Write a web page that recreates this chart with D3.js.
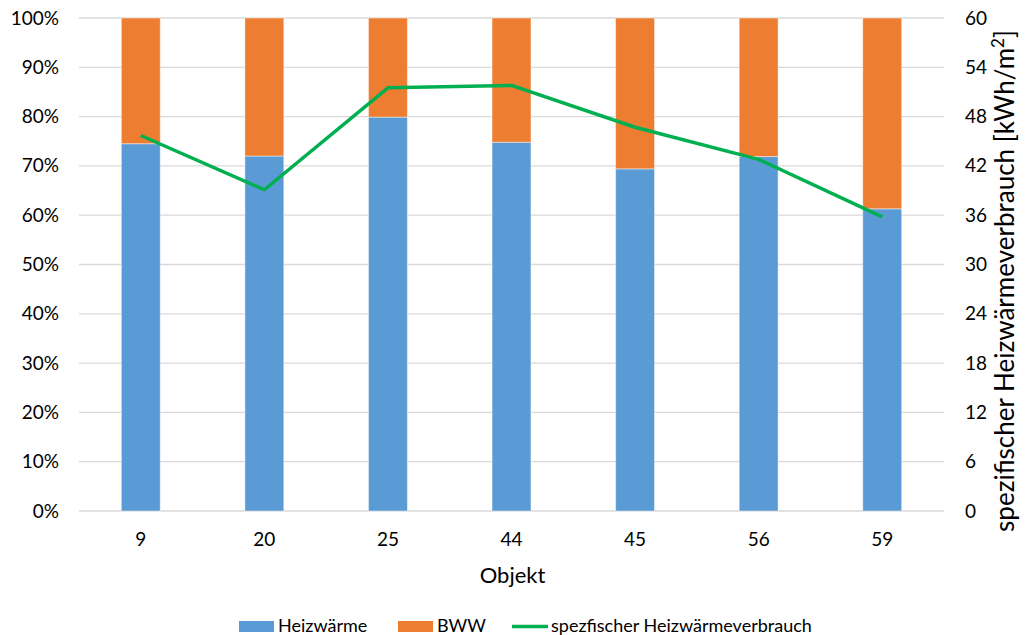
<!DOCTYPE html>
<html>
<head>
<meta charset="utf-8">
<script src="https://cdn.jsdelivr.net/npm/d3@7"></script>
<style>
html,body{margin:0;padding:0;background:#fff;}
svg{display:block;font-family:Lato,"Open Sans",sans-serif;}
</style>
</head>
<body>
<svg id="chart" width="1026" height="635"></svg>
<script>
const categories = ["9","20","25","44","45","56","59"];
const heizwaerme = [74.5, 72.0, 79.9, 74.8, 69.4, 71.9, 61.3];
const bww = heizwaerme.map(v => 100 - v);
const spezVerbrauch = [45.7, 39.1, 51.5, 51.8, 46.7, 42.8, 35.8];
const leftTicks = [0,10,20,30,40,50,60,70,80,90,100];
const rightTicks = [0,6,12,18,24,30,36,42,48,54,60];
const seriesNames = ["Heizwärme","BWW","spezfischer Heizwärmeverbrauch"];
const colors = {heiz:"#5B9BD5", bww:"#ED7D31", line:"#00B050", grid:"#D9D9D9", text:"#000"};

const svg = d3.select("#chart");
const m = {left:79, right:944, top:18, bottom:511};
const FONT = "Lato,'Open Sans',sans-serif";

const x = d3.scaleBand().domain(categories).range([m.left, m.right]).paddingInner(0.685).paddingOuter(0.3425);
const yL = d3.scaleLinear().domain([0,100]).range([m.bottom, m.top]);
const yR = d3.scaleLinear().domain([0,60]).range([m.bottom, m.top]);

// gridlines
svg.append("g").selectAll("line").data(leftTicks).join("line")
  .attr("x1", m.left).attr("x2", m.right)
  .attr("y1", d => yL(d)).attr("y2", d => yL(d))
  .attr("stroke", colors.grid).attr("stroke-width", 1.3);

// bars
const stacks = categories.map((c,i) => ({c, h: heizwaerme[i], b: bww[i]}));
const g = svg.append("g");
g.selectAll(".heiz").data(stacks).join("rect")
  .attr("x", d => x(d.c)).attr("width", x.bandwidth())
  .attr("y", d => yL(d.h)).attr("height", d => yL(0) - yL(d.h))
  .attr("fill", colors.heiz).attr("stroke","#fff").attr("stroke-opacity",0.45).attr("stroke-width",1);
g.selectAll(".bww").data(stacks).join("rect")
  .attr("x", d => x(d.c)).attr("width", x.bandwidth())
  .attr("y", d => yL(100)).attr("height", d => yL(d.h) - yL(100))
  .attr("fill", colors.bww).attr("stroke","#fff").attr("stroke-opacity",0.45).attr("stroke-width",1);

// line
const line = d3.line().x((d,i) => x(categories[i]) + x.bandwidth()/2).y(d => yR(d));
svg.append("path").datum(spezVerbrauch).attr("d", line)
  .attr("fill","none").attr("stroke", colors.line).attr("stroke-width",3.5).attr("stroke-linejoin","round");

// left axis
const axL = svg.append("g").attr("transform", `translate(${m.left},0)`)
  .call(d3.axisLeft(yL).tickValues(leftTicks).tickFormat(d => d + "%").tickSize(0).tickPadding(20));
axL.select(".domain").remove();
axL.selectAll("text").attr("font-size", 19).attr("fill", colors.text).attr("font-family",FONT);

// right axis
const axR = svg.append("g").attr("transform", `translate(${m.right},0)`)
  .call(d3.axisRight(yR).tickValues(rightTicks).tickSize(0).tickPadding(21));
axR.select(".domain").remove();
axR.selectAll("text").attr("font-size", 19).attr("fill", colors.text).attr("font-family",FONT);

// bottom axis
const axB = svg.append("g").attr("transform", `translate(0,${m.bottom})`)
  .call(d3.axisBottom(x).tickSize(0).tickPadding(22));
axB.select(".domain").remove();
axB.selectAll("text").attr("font-size", 19).attr("fill", colors.text).attr("font-family",FONT);

// x title
svg.append("text").attr("x", (m.left+m.right)/2 + 1).attr("y", 583).attr("text-anchor","middle")
  .attr("font-size", 22).text("Objekt");

// right title
const rt = svg.append("text").attr("transform", `translate(1014,281) rotate(-90)`)
  .attr("text-anchor","middle").attr("font-size", 26);
rt.append("tspan").text("spezifischer Heizwärmeverbrauch [kWh/m");
rt.append("tspan").attr("baseline-shift","super").attr("font-size",17).text("2");
rt.append("tspan").text("]");

// legend
const leg = svg.append("g").attr("font-size", 18);
const ly = 626.5;
leg.append("rect").attr("x",239).attr("y",ly-5.5).attr("width",35).attr("height",11).attr("fill",colors.heiz);
leg.append("text").attr("x",278).attr("y",632).text(seriesNames[0]);
leg.append("rect").attr("x",398).attr("y",ly-5.5).attr("width",35).attr("height",11).attr("fill",colors.bww);
leg.append("text").attr("x",437).attr("y",632).text(seriesNames[1]);
leg.append("line").attr("x1",512).attr("x2",548).attr("y1",ly).attr("y2",ly).attr("stroke",colors.line).attr("stroke-width",3.5);
leg.append("text").attr("x",551).attr("y",632).text(seriesNames[2]);
</script>
</body>
</html>
